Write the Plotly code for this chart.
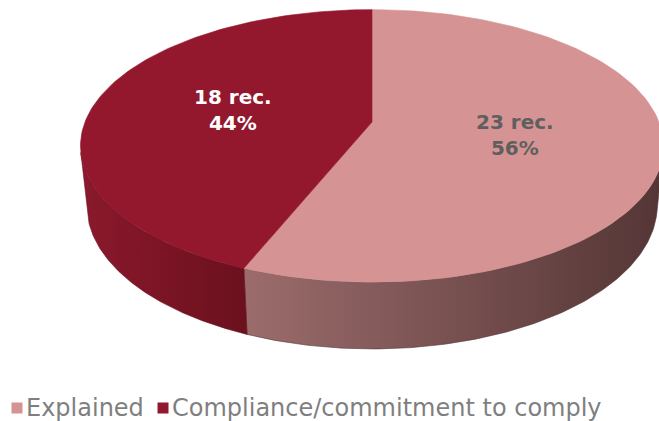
import math
import plotly.graph_objects as go

# Recommendation outcomes
labels = ["Explained", "Compliance/commitment to comply"]
values = [23, 18]
top_colors = ["#d69393", "#93182e"]
side_gradients = [["#9c6c6c", "#543535"], ["#8a192c", "#6b101e"]]
label_colors = ["#5f5f5f", "#ffffff"]

W, H = 659, 421

# 3D pie projection parameters (pixel space)
CX, CY, K = 372, 122, 287
ALPHA = math.radians(27.4)
DIST = 5.06
DEPTH = 0.235


def project(phi_deg, y=0.0, r=1.0):
    """Project a point of the disc (angle clockwise from the back) to pixels."""
    phi = math.radians(phi_deg)
    x = r * math.sin(phi)
    z = -r * math.cos(phi)
    d = z * math.cos(ALPHA) + y * math.sin(ALPHA)
    v = y * math.cos(ALPHA) - z * math.sin(ALPHA)
    s = DIST / (DIST - d)
    return CX + K * x * s, CY - K * v * s


def arc(a0, a1, y=0.0, n=120):
    pts = [project(a0 + (a1 - a0) * i / n, y) for i in range(n + 1)]
    return [p[0] for p in pts], [p[1] for p in pts]


# visible band of the cylinder wall
lim = math.degrees(math.acos(-1.0 / (DIST * math.cos(ALPHA))))
vis_lo, vis_hi = lim, 360 - lim

total = sum(values)
bounds = [0.0]
for v in values:
    bounds.append(bounds[-1] + 360.0 * v / total)

fig = go.Figure()

# side walls
for i in range(len(values)):
    a0, a1 = max(bounds[i], vis_lo), min(bounds[i + 1], vis_hi)
    if a1 <= a0:
        continue
    tx, ty = arc(a0, a1, 0.0)
    bx, by = arc(a0, a1, -DEPTH)
    xs = tx + bx[::-1] + [tx[0]]
    ys = ty + by[::-1] + [ty[0]]
    fig.add_trace(go.Scatter(
        x=xs, y=ys, mode="lines", fill="toself",
        line=dict(width=0.6, color=side_gradients[i][1]),
        fillgradient=dict(type="horizontal",
                          colorscale=[[0, side_gradients[i][0]], [1, side_gradients[i][1]]]),
        hoverinfo="skip", showlegend=False))

# top faces
for i in range(len(values)):
    ax, ay = arc(bounds[i], bounds[i + 1], 0.0)
    xs = [CX] + ax + [CX]
    ys = [CY] + ay + [CY]
    fig.add_trace(go.Scatter(
        x=xs, y=ys, mode="lines", fill="toself",
        fillcolor=top_colors[i], line=dict(width=0.6, color=top_colors[i]),
        hoverinfo="skip", showlegend=False))

# data labels
for i in range(len(values)):
    mid = (bounds[i] + bounds[i + 1]) / 2
    lx, ly = project(mid, 0.0, 0.5)
    pct = round(100 * values[i] / total)
    fig.add_annotation(x=lx, y=ly, text=f"{values[i]} rec.<br>{pct}%",
                       showarrow=False, xanchor="center", yanchor="middle",
                       font=dict(family="DejaVu Sans", size=20, color=label_colors[i],
                                 weight="bold"))

# legend
legend_x = [17, 163]
legend_y = 408
for i, name in enumerate(labels):
    fig.add_trace(go.Scatter(
        x=[legend_x[i]], y=[legend_y], mode="markers",
        marker=dict(symbol="square", size=11, color=top_colors[i], line=dict(width=0)),
        hoverinfo="skip", showlegend=False))
    fig.add_annotation(x=legend_x[i] + 7, y=legend_y, text=name, showarrow=False,
                       xanchor="left", yanchor="middle",
                       font=dict(family="DejaVu Sans", size=24, color="#7f7f7f"))

fig.update_layout(
    width=W, height=H,
    margin=dict(l=0, r=0, t=0, b=0),
    paper_bgcolor="white", plot_bgcolor="white",
    xaxis=dict(range=[0, W], visible=False, fixedrange=True),
    yaxis=dict(range=[H, 0], visible=False, fixedrange=True),
)

fig.write_html("out.html")
